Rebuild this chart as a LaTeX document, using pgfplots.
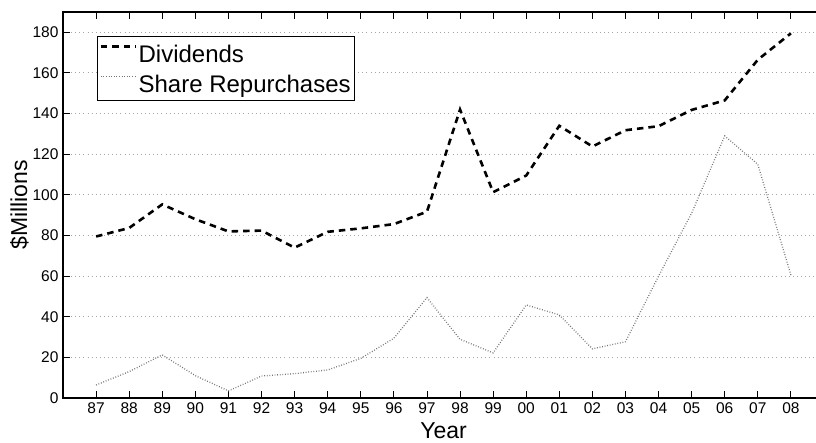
\documentclass[border=0pt]{standalone}
\usepackage{pgfplots}
\pgfplotsset{compat=1.18}
\usepackage{fontspec}
\setmainfont{Liberation Sans}
\begin{document}
\begin{tikzpicture}
\begin{axis}[
  at={(0pt,0pt)}, anchor=south west,
  scale only axis, width=761pt, height=386pt,
  xmin=-1, xmax=22, ymin=0, ymax=190,
  xtick={0,...,21},
  xticklabels={87,88,89,90,91,92,93,94,95,96,97,98,99,00,01,02,03,04,05,06,07,08},
  ytick={0,20,...,180},
  xtick pos=both, ytick pos=both, tick align=inside,
  major tick length=7pt,
  every tick/.style={black, line width=0.9pt},
  axis line style={line width=1.2pt},
  ymajorgrids,
  major grid style={gray!70, line width=0.9pt, dash pattern=on 0.9pt off 3.2pt},
  /pgf/number format/assume math mode=true,
  tick label style={font=\fontsize{15.5}{17}\selectfont},
  xticklabel style={yshift=-1pt},
  yticklabel style={xshift=-1pt},
  xlabel={Year}, ylabel={\$Millions},
  label style={font=\fontsize{23}{26}\selectfont},
  xlabel style={at={(axis description cs:0.5,0)}, anchor=base, yshift=-40pt},
  ylabel style={at={(axis description cs:-0.047,0.5)}, anchor=base},
  legend style={at={(axis description cs:0.0447,0.938)}, anchor=north west,
    draw=black, line width=1pt, font=\fontsize{24}{30}\selectfont,
    inner xsep=2pt, inner ysep=2pt, row sep=0pt,
    nodes={inner xsep=1.5pt, inner ysep=1pt, text height=23pt, text depth=5pt}},
  legend cell align=left,
  legend image code/.code={\draw[#1] (0pt,7pt) -- (35pt,7pt);},
]
\addplot[black, line width=2.6pt, dash pattern=on 6.5pt off 5pt] coordinates {
(0,79.5) (1,83.7) (2,95.3) (3,88) (4,82) (5,82.4) (6,74) (7,81.8) (8,83.5) (9,85.6) (10,91.7)
(11,142) (12,101.3) (13,109.5) (14,134) (15,123.8) (16,131.8) (17,133.8) (18,141.8) (19,146.5) (20,166.5) (21,179.5)};
\addlegendentry{Dividends}
\addplot[black!55, line width=1.3pt, dash pattern=on 0.8pt off 1.8pt] coordinates {
(0,6.4) (1,13) (2,21.2) (3,11) (4,3.5) (5,10.8) (6,12) (7,13.8) (8,19.5) (9,29.4) (10,49.4)
(11,28.9) (12,22.2) (13,45.8) (14,40.9) (15,24.2) (16,27.7) (17,60) (18,91) (19,129) (20,115) (21,60.5)};
\addlegendentry{Share Repurchases}
\end{axis}
\pgfresetboundingbox
\useasboundingbox (-63pt,-44pt) rectangle (753pt,398pt);
\end{tikzpicture}
\end{document}
